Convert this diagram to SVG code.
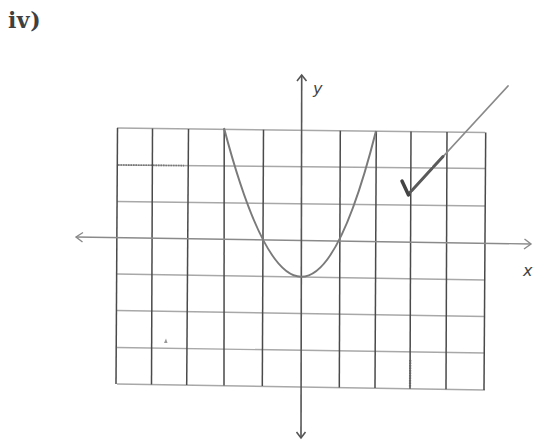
<svg xmlns="http://www.w3.org/2000/svg" width="536" height="442" viewBox="0 0 536 442">
<style>
.vl{stroke:#4a4a4a;stroke-width:1.5;fill:none}
.hl{stroke:#a8a8a8;stroke-width:1.4;fill:none}
.ax{stroke:#8a8a8a;stroke-width:1.4;fill:none}
.yax{stroke:#555;stroke-width:1.6;fill:none}
.curve{stroke:#7a7a7a;stroke-width:2;fill:none}
.lbl{font-family:"DejaVu Sans","Liberation Sans",sans-serif;font-style:italic;fill:#444}
</style>
<rect width="536" height="442" fill="#ffffff"/>
<text x="8" y="28" font-family="'DejaVu Serif','Liberation Serif',serif" font-weight="bold" font-size="22" letter-spacing="0.5" fill="#404040">iv)</text>
<g id="grid">
<g id="horizontal">
<line class="hl" x1="117" y1="128" x2="485" y2="132.5"/>
<line class="hl" x1="117" y1="165" x2="485" y2="168.5"/>
<line class="hl" x1="117" y1="201.5" x2="485" y2="206"/>
<line class="hl" x1="117" y1="274" x2="485" y2="280"/>
<line class="hl" x1="117" y1="310.5" x2="485" y2="316.5"/>
<line class="hl" x1="117" y1="347.5" x2="485" y2="353"/>
<line class="hl" x1="117" y1="384" x2="485" y2="390"/>
<line x1="118" y1="165" x2="184" y2="165.6" stroke="#777" stroke-width="1.6" stroke-dasharray="1.5 1"/>
</g>
<g id="vertical">
<line class="vl" x1="117.5" y1="128" x2="116" y2="384"/>
<line class="vl" x1="152.5" y1="128.4" x2="151.5" y2="384.5"/>
<line class="vl" x1="188.5" y1="128.9" x2="186.7" y2="385"/>
<line class="vl" x1="224.2" y1="129.3" x2="224" y2="385.5"/>
<line class="vl" x1="263.5" y1="129.8" x2="262.3" y2="386"/>
<line class="vl" x1="340.3" y1="130.7" x2="339.3" y2="387.5"/>
<line class="vl" x1="376.3" y1="131.2" x2="375" y2="388"/>
<line class="vl" x1="411" y1="131.6" x2="410" y2="388.7"/>
<line class="vl" x1="447" y1="132" x2="446" y2="389.3"/>
<line class="vl" x1="485.7" y1="132.5" x2="484" y2="390"/>
<line x1="410.2" y1="360" x2="410" y2="387" stroke="#666" stroke-width="2.2" stroke-dasharray="1.5 1"/>
</g>
</g>
<g id="axes">
<g id="x-axis">
<line class="ax" x1="76" y1="237" x2="531" y2="244"/>
<polyline class="ax" points="83,232.5 76,237 82.5,242" />
<polyline class="ax" points="524.5,239 531,244 524,249" />
<text class="lbl" x="523" y="276" font-size="16">x</text>
</g>
<g id="y-axis">
<line class="yax" x1="301.7" y1="75" x2="301" y2="438"/>
<polyline class="yax" points="297,81 301.7,75 306.5,81"/>
<polyline class="yax" points="296.5,432 301,438 305.5,432"/>
<text class="lbl" x="313" y="94" font-size="16">y</text>
</g>
</g>
<g id="curve">
<path class="curve" d="M224,128 Q302,424 376,131"/>
</g>
<g id="marks">
<path d="M164,343 L166,338.5 L167.5,343 Z" fill="#999"/>
<line x1="508" y1="86" x2="409.5" y2="193" stroke="#8a8a8a" stroke-width="1.8" stroke-linecap="round"/>
<line x1="443" y1="156.5" x2="409.5" y2="193" stroke="#5a5a5a" stroke-width="3" stroke-linecap="round" stroke-dasharray="14 2 30 2"/>
<path d="M402,181 L408.5,195" stroke="#444" stroke-width="3.5" fill="none" stroke-linecap="round"/>
</g>
</svg>
